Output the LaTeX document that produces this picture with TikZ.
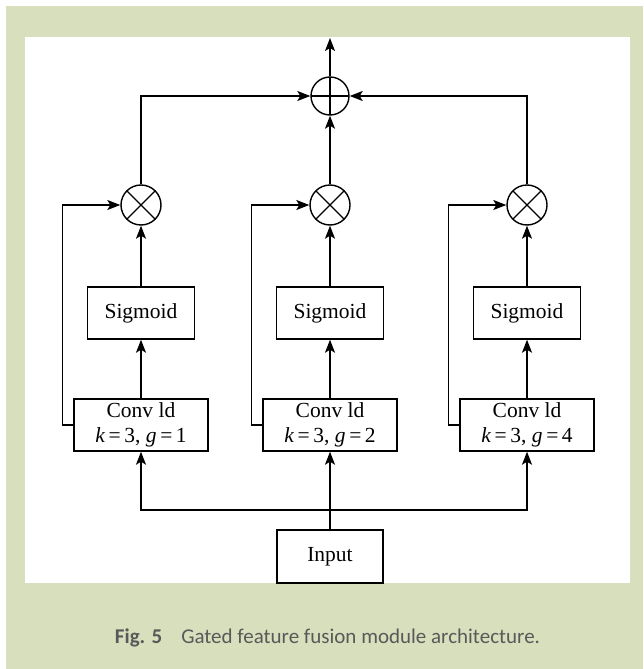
\documentclass[tikz,border=0pt]{standalone}
\usepackage{fontspec}
\setmainfont{Liberation Serif}
\newfontfamily\capfont{Carlito}
\usetikzlibrary{arrows.meta}
\definecolor{panelgreen}{RGB}{216,223,189}
\definecolor{capgray}{RGB}{89,89,89}

\begin{document}
\begin{tikzpicture}[x=1pt, y=-1pt, line width=1.4pt,
  >={Stealth[length=13pt, width=10pt, inset=3pt]},
  every node/.style={font=\fontsize{21.5}{25}\selectfont},
  blockbox/.style={draw, inner sep=0pt, minimum width=107pt, minimum height=52pt, align=center},
  convbox/.style={blockbox, minimum width=134pt},
  mulnode/.style={draw, circle, minimum size=40pt, inner sep=0pt,
    path picture={\draw (path picture bounding box.north west) -- (path picture bounding box.south east)
      (path picture bounding box.north east) -- (path picture bounding box.south west);}},
  addnode/.style={draw, circle, minimum size=38pt, inner sep=0pt,
    path picture={\draw (path picture bounding box.north) -- (path picture bounding box.south)
      (path picture bounding box.west) -- (path picture bounding box.east);}}]
	% frame
	\useasboundingbox (0,0) rectangle (643,669);
	\fill[white] (0,0) rectangle (643,669);
	\fill[panelgreen] (6,6) rectangle (643,669);
	\fill[white] (25,37) rectangle (630,583);

	\node[blockbox, minimum width=106pt, minimum height=53pt] (inp) at (330,556.5) {Input};
	\node[convbox] (conv1) at (141,425) {Conv ld\\\textit{k}\,=\,3, \textit{g}\,=\,1};
	\node[convbox] (conv2) at (330,425) {Conv ld\\\textit{k}\,=\,3, \textit{g}\,=\,2};
	\node[convbox] (conv3) at (527,425) {Conv ld\\\textit{k}\,=\,3, \textit{g}\,=\,4};
	\node[blockbox] (sig1) at (141,313) {Sigmoid};
	\node[blockbox] (sig2) at (330,313) {Sigmoid};
	\node[blockbox] (sig3) at (527,313) {Sigmoid};
	\node[mulnode] (mul1) at (141,205) {};
	\node[mulnode] (mul2) at (330,205) {};
	\node[mulnode] (mul3) at (527,205) {};
	\node[addnode] (add) at (330,96) {};
	\coordinate (out) at (330,38);
	\coordinate (split) at (330,510);

	\draw (inp) -- (split);
	\draw[->] (split) -| (conv1);
	\draw[->] (split) -- (conv2);
	\draw[->] (split) -| (conv3);
	\foreach \i in {1,2,3} {
		\draw[->] (conv\i) -- (sig\i);
		\draw[->] (sig\i) -- (mul\i);
		\draw[->] (conv\i.west) -- ++(-11,0) |- (mul\i.west);
	}
	\draw[->] (mul1) |- (add.west);
	\draw[->] (mul2) -- (add);
	\draw[->] (mul3) |- (add.east);
	\draw[->] (add) -- (out);

	% caption
	\node[font=\capfont\fontsize{21}{25}\selectfont, text=capgray, anchor=base] (cap) at (327.5,643)
		{\textbf{Fig. 5}\hspace{19pt}Gated feature fusion module architecture.};
\end{tikzpicture}
\end{document}
